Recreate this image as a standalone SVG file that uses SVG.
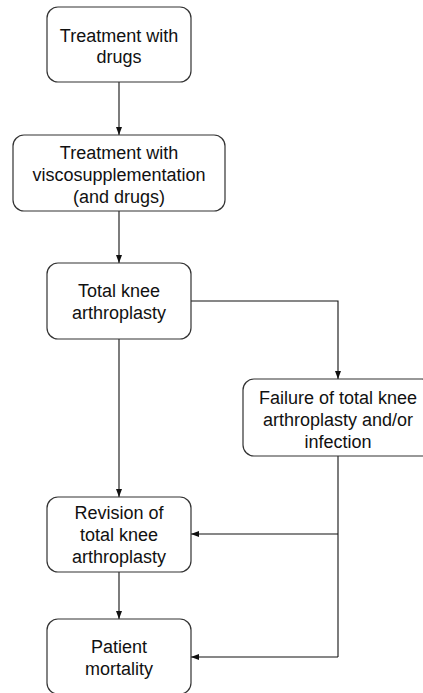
<svg xmlns="http://www.w3.org/2000/svg" width="423" height="693" viewBox="0 0 423 693">
  <style>
    .box { fill: #ffffff; stroke: #333333; stroke-width: 1.2; }
    .lbl { font-family: "Liberation Sans", Arial, sans-serif; font-size: 18px; fill: #111111; text-anchor: middle; }
    .edge { fill: none; stroke: #111111; stroke-width: 1.1; marker-end: url(#arrow); }
    .line { fill: none; stroke: #111111; stroke-width: 1.1; }
  </style>
  <defs>
    <marker id="arrow" viewBox="0 0 8 8" refX="8" refY="4" markerWidth="8" markerHeight="8" markerUnits="userSpaceOnUse" orient="auto">
      <path d="M0,1 L8,4 L0,7 Z" fill="#111111"/>
    </marker>
  </defs>
  <rect width="423" height="693" fill="#ffffff"/>

  <g id="connectors">
    <line class="edge" x1="119" y1="82" x2="119" y2="135"/>
    <line class="edge" x1="119" y1="211" x2="119" y2="263"/>
    <polyline class="edge" points="191,301 338,301 338,379"/>
    <line class="edge" x1="119" y1="339" x2="119" y2="497"/>
    <line class="edge" x1="119" y1="572" x2="119" y2="619"/>
    <line class="line" x1="338" y1="456" x2="338" y2="657"/>
    <line class="edge" x1="338" y1="534" x2="191" y2="534"/>
    <line class="edge" x1="338" y1="657" x2="191" y2="657"/>
  </g>

  <g id="drugs">
    <rect class="box" x="47" y="7" width="144" height="75" rx="11"/>
    <text class="lbl" x="119" y="42">Treatment with</text>
    <text class="lbl" x="119" y="63">drugs</text>
  </g>

  <g id="visco">
    <rect class="box" x="13" y="135" width="212" height="76" rx="11"/>
    <text class="lbl" x="119" y="159">Treatment with</text>
    <text class="lbl" x="119" y="181">viscosupplementation</text>
    <text class="lbl" x="119" y="203">(and drugs)</text>
  </g>

  <g id="tka">
    <rect class="box" x="47" y="263" width="144" height="76" rx="11"/>
    <text class="lbl" x="119" y="297">Total knee</text>
    <text class="lbl" x="119" y="319">arthroplasty</text>
  </g>

  <g id="failure">
    <rect class="box" x="243" y="379" width="190" height="77" rx="11"/>
    <text class="lbl" x="338" y="404">Failure of total knee</text>
    <text class="lbl" x="338" y="426">arthroplasty and/or</text>
    <text class="lbl" x="338" y="448">infection</text>
  </g>

  <g id="revision">
    <rect class="box" x="47" y="497" width="144" height="75" rx="11"/>
    <text class="lbl" x="119" y="519">Revision of</text>
    <text class="lbl" x="119" y="541">total knee</text>
    <text class="lbl" x="119" y="563">arthroplasty</text>
  </g>

  <g id="mortality">
    <rect class="box" x="47" y="619" width="144" height="75" rx="11"/>
    <text class="lbl" x="119" y="653">Patient</text>
    <text class="lbl" x="119" y="675">mortality</text>
  </g>
</svg>
